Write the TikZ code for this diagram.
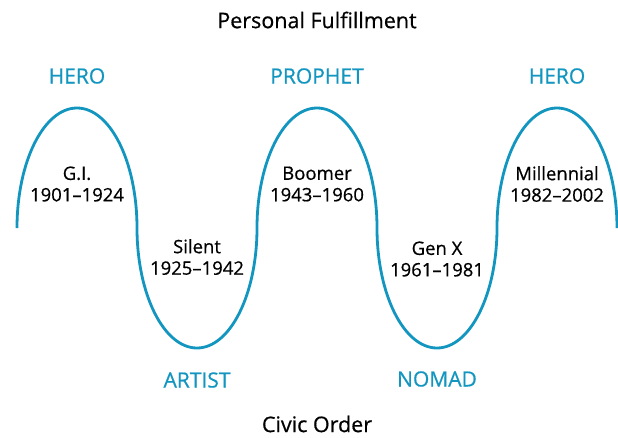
\documentclass[tikz,border=0pt]{standalone}
\usepackage{fontspec}
\setmainfont{Open Sans}[FakeBold=0.6]
\usepackage{tikz}
\usepackage{xcolor}
\definecolor{waveblue}{RGB}{18,150,192}

\begin{document}
\begin{tikzpicture}[x=1pt, y=-1pt,
  wave/.style={draw=waveblue, line width=2.8pt},
  gen/.style={font=\fontsize{18.5}{21.5}\selectfont, align=center, inner sep=1pt},
  archetype/.style={text=waveblue, font=\fontsize{21}{24}\selectfont, inner sep=1pt},
  axislabel/.style={font=\fontsize{21.5}{24}\selectfont, inner sep=0pt}]
\useasboundingbox (0,0) rectangle (618,437);
% the generational wave
\draw[wave] (17,228)
  arc[start angle=180, end angle=360, x radius=60, y radius=120]
  arc[start angle=180, end angle=0, x radius=60, y radius=120]
  arc[start angle=180, end angle=360, x radius=60, y radius=120]
  arc[start angle=180, end angle=0, x radius=60, y radius=120]
  arc[start angle=180, end angle=360, x radius=60, y radius=120];
\node[axislabel] (fulfil) at (317,20) {Personal Fulfillment};
\node[axislabel] (civic) at (317,424) {Civic Order};
\node[archetype] (hero1) at (77,76) {HERO};
\node[archetype] (prophet) at (317,76) {PROPHET};
\node[archetype] (hero2) at (557,76) {HERO};
\node[archetype] (artist) at (197,380) {ARTIST};
\node[archetype] (nomad) at (437,379) {NOMAD};
\node[gen] (gi) at (77,184) {G.I.\\1901--1924};
\node[gen] (boomer) at (317,184) {Boomer\\1943--1960};
\node[gen] (millennial) at (557,184) {Millennial\\1982--2002};
\node[gen] (silent) at (197,257) {Silent\\1925--1942};
\node[gen] (genx) at (437,259) {Gen X\\1961--1981};
\end{tikzpicture}
\end{document}
